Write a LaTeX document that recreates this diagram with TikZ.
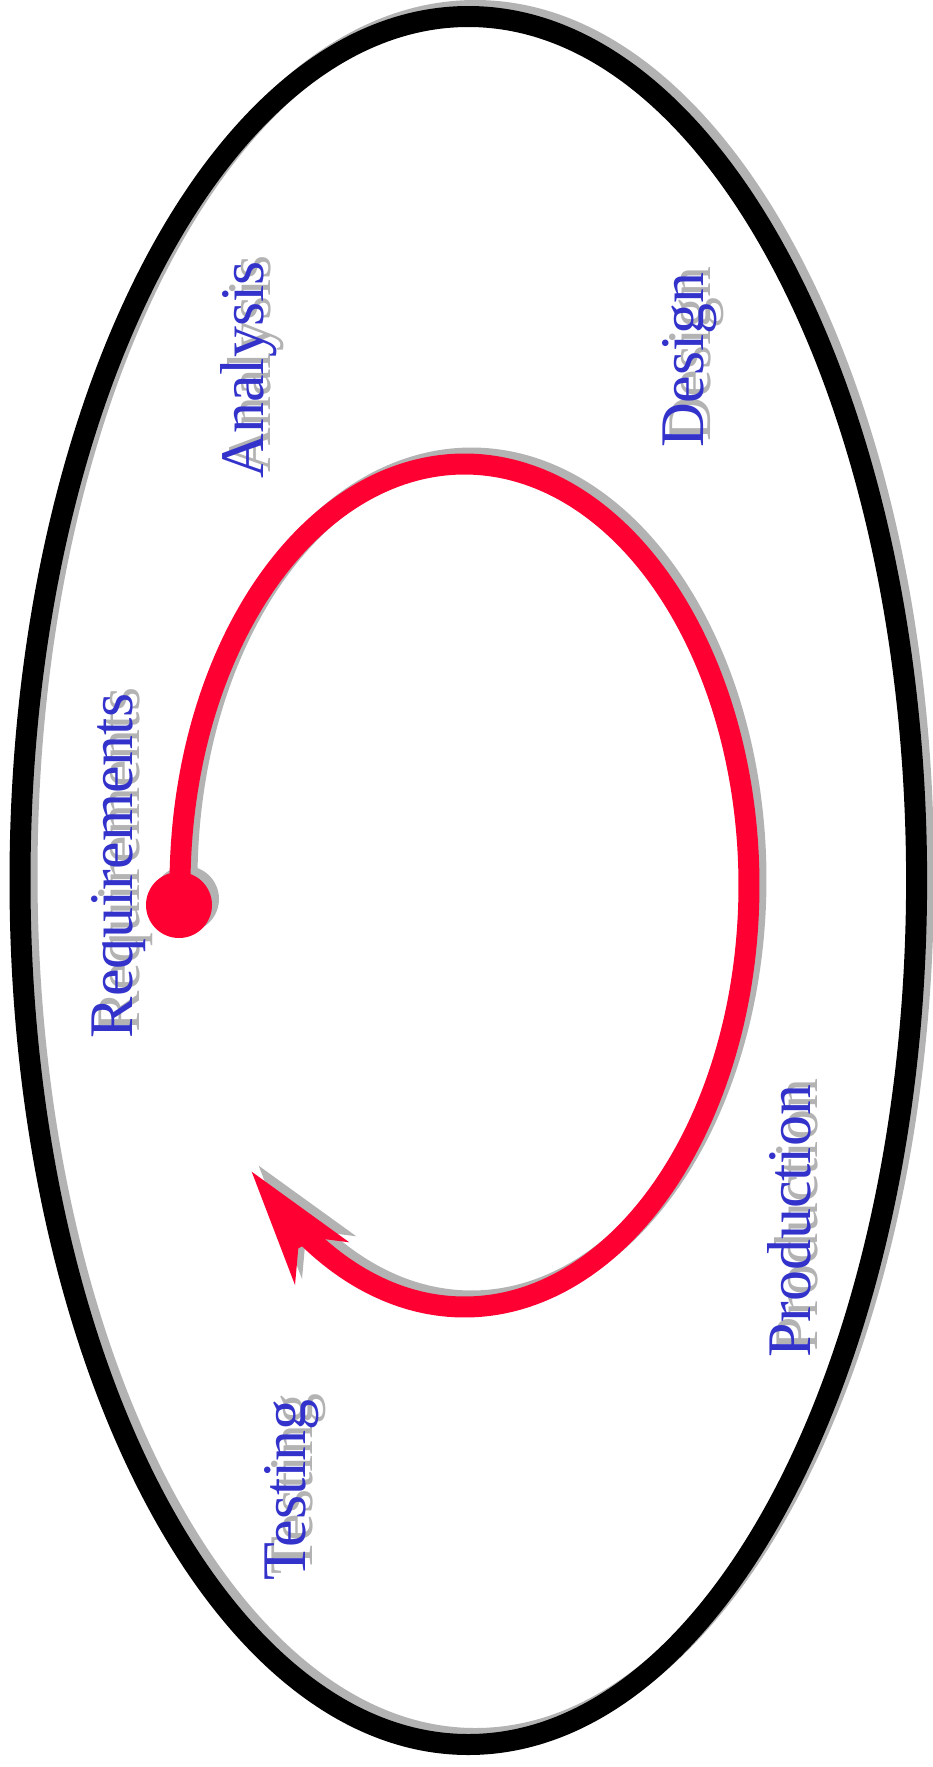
\documentclass[tikz,border=0pt]{standalone}
\usepackage{fontspec}
\setmainfont{Liberation Serif}
\definecolor{redc}{HTML}{FF0033}
\definecolor{bluec}{HTML}{3333CC}
\definecolor{shad}{HTML}{B3B3B3}
\newcommand\spiralpath{plot[domain=180:484,samples=160,smooth] ({464.5+284.5*cos(\x)},{885.5+421.5*sin(\x)})}
\newcommand\arrowheadpath{(251.7,1171.7) -- (349.3,1242.3) -- (318.3,1238.3) -- (298.3,1248.3) -- (295,1285) -- cycle}
\newcommand\labels[1]{%
  \node[lbl,text=#1] (req) at (132,866) {Requirements};
  \node[lbl,text=#1] (ana) at (263,370) {Analysis};
  \node[lbl,text=#1] (des) at (703,360) {Design};
  \node[lbl,text=#1] (pro) at (810,1221) {Production};
  \node[lbl,text=#1] (tes) at (305,1490) {Testing};
}
\begin{document}
\begin{tikzpicture}[x=1pt,y=-1pt,
  lbl/.style={rotate=90,anchor=base,inner sep=0pt,font=\fontsize{62}{70}\selectfont},
  outer/.style={line width=21pt},
  spiral/.style={line width=21pt},
]
\useasboundingbox (0,0) rectangle (933,1767);
% outer ellipse
\begin{scope}[shift={(7,-6)}]
  \draw[outer,shad] (468.3,880.5) ellipse [x radius=448.3pt, y radius=864pt];
\end{scope}
\draw[outer,black] (468.3,880.5) ellipse [x radius=448.3pt, y radius=864pt];
% labels
\begin{scope}[shift={(7,-6)}]
  \labels{shad}
\end{scope}
\labels{bluec}
% spiral shadow
\begin{scope}[shift={(7,-6)}]
  \draw[spiral,shad] \spiralpath;
  \fill[shad] \arrowheadpath;
  \fill[shad] (179,905) circle[radius=33pt];
\end{scope}
\draw[spiral,redc] \spiralpath;
\fill[redc] \arrowheadpath;
\fill[redc] (179,905) circle[radius=33pt];
\end{tikzpicture}
\end{document}
